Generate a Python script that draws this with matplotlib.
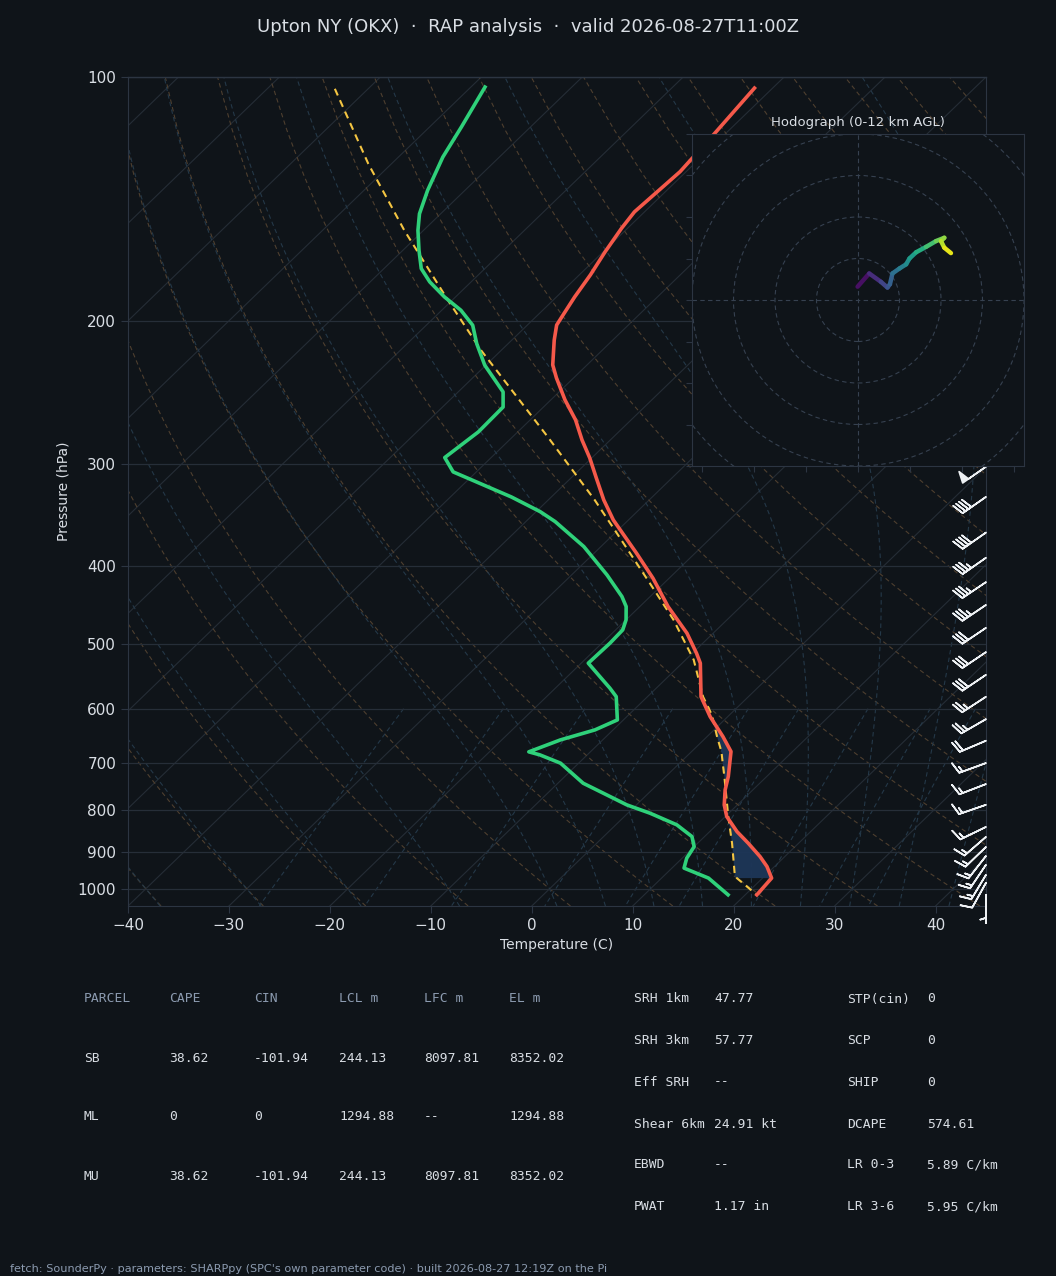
import numpy as np
import matplotlib
matplotlib.use("Agg")
import matplotlib.pyplot as plt
from matplotlib.axes import Axes
import matplotlib.transforms as transforms
from matplotlib.projections import register_projection
from matplotlib.collections import LineCollection
from matplotlib.patches import Circle

# ---------------------------------------------------------------- data
title = "Upton NY (OKX)  \u00b7  RAP analysis  \u00b7  valid 2026-08-27T11:00Z"
footer = ("fetch: SounderPy \u00b7 parameters: SHARPpy (SPC's own parameter code) "
          "\u00b7 built 2026-08-27 12:19Z on the Pi")

p_temp = [103.2, 117.3, 130.8, 146.6, 153.5, 164.3, 175.3, 186.6, 196.4, 202.1,
          210.9, 226.3, 234.8, 249.9, 264.5, 280.0, 294.6, 311.8, 331.9, 351.3,
          386.0, 414.4, 449.1, 484.3, 512.6, 527.3, 579.8, 613.6, 649.3, 677.5,
          727.4, 755.3, 788.2, 814.8, 850.2, 878.6, 912.7, 938.7, 970.1, 1017.2]
t_temp = [-61.8, -61.1, -60.6, -61.0, -60.6, -59.8, -58.9, -58.2, -57.5, -57.1,
          -55.8, -53.4, -51.7, -48.6, -45.5, -42.8, -40.2, -37.5, -34.5, -31.5,
          -25.8, -21.6, -17.2, -12.6, -9.6, -8.2, -4.7, -1.75, 1.56, 3.9,
          6.2, 7.25, 8.7, 10.15, 12.7, 15.0, 17.55, 19.25, 20.9, 21.15]

p_dwpt = [102.9, 115.2, 125.5, 137.9, 147.4, 154.5, 163.5, 172.2, 178.8, 186.6,
          193.8, 202.2, 213.1, 226.5, 244.3, 255.0, 273.6, 294.3, 306.5, 329.1,
          343.1, 352.9, 378.8, 410.5, 436.5, 449.1, 466.3, 479.8, 498.2, 527.3,
          545.1, 566.0, 579.8, 619.4, 637.2, 655.6, 678.1, 683.9, 700.2, 741.2,
          766.2, 788.2, 807.0, 834.1, 862.3, 887.3, 916.9, 943.0, 970.1, 1017.2]
t_dwpt = [-88.6, -86.85, -85.6, -83.7, -82.1, -80.55, -78.4, -76.3, -74.1, -71.1,
          -68.1, -65.4, -63.1, -60.1, -55.55, -54.0, -53.9, -54.6, -52.3, -43.96,
          -39.6, -37.1, -31.7, -26.5, -22.8, -21.35, -20.0, -19.3, -19.2, -19.3,
          -17.1, -14.6, -13.1, -10.6, -11.8, -14.2, -16.1, -14.7, -11.8, -7.5,
          -3.96, -0.95, 2.2, 6.05, 8.75, 10.0, 10.45, 11.2, 14.65, 18.3]

p_parcel = [103.4, 127.9, 154.5, 188.4, 217.1, 277.6, 331.9, 364.7, 420.3, 466.3,
            522.3, 579.8, 611.0, 649.3, 677.5, 700.0, 727.0, 755.3, 814.8, 878.6,
            965.7, 1017.2]
t_parcel = [-103.3, -92.3, -81.9, -70.4, -62.0, -46.5, -35.4, -29.8, -21.4, -15.3,
            -9.2, -4.5, -1.72, 0.98, 2.95, 4.26, 5.79, 7.3, 10.3, 13.4,
            17.1, 21.15]

barb_p = [302, 329, 364, 391, 419, 447, 477, 511, 545, 580, 618, 657,
          700, 743, 788, 839, 863, 888, 911, 934, 961, 983, 1017]
barb_spd_kt = [50, 40, 40, 35, 35, 35, 30, 30, 30, 25, 25, 20,
               15, 15, 15, 15, 15, 15, 15, 15, 15, 10, 5]
barb_dir_deg = [235, 235, 235, 235, 236, 236, 236, 236, 236, 237, 240, 247,
                250, 249, 251, 244, 229, 226, 218, 214, 211, 209, 180]

hodo_u = [-0.1, 2.7, 5.5, 7.1, 7.7, 8.3, 10.0, 11.6, 12.4, 14.0, 16.4, 18.8,
          20.8, 20.0, 20.8, 22.4]
hodo_v = [3.2, 6.4, 4.4, 3.0, 3.8, 6.4, 7.6, 8.6, 10.0, 11.5, 12.8, 14.2,
          15.0, 14.2, 12.6, 11.3]
hodo_z_km = [0.0, 1.0, 2.0, 2.9, 3.4, 4.0, 4.8, 5.5, 6.2, 7.0, 7.9, 8.9,
             9.8, 10.3, 11.0, 12.0]

parcel_header = ["PARCEL", "CAPE", "CIN", "LCL m", "LFC m", "EL m"]
parcel_rows = [["SB", "38.62", "-101.94", "244.13", "8097.81", "8352.02"],
               ["ML", "0", "0", "1294.88", "--", "1294.88"],
               ["MU", "38.62", "-101.94", "244.13", "8097.81", "8352.02"]]
idx_labels_1 = ["SRH 1km", "SRH 3km", "Eff SRH", "Shear 6km", "EBWD", "PWAT"]
idx_values_1 = ["47.77", "57.77", "--", "24.91 kt", "--", "1.17 in"]
idx_labels_2 = ["STP(cin)", "SCP", "SHIP", "DCAPE", "LR 0-3", "LR 3-6"]
idx_values_2 = ["0", "0", "0", "574.61", "5.89 C/km", "5.95 C/km"]

x_ticks = [-40, -30, -20, -10, 0, 10, 20, 30, 40]
p_ticks = [100, 200, 300, 400, 500, 600, 700, 800, 900, 1000]
mix_ratios = [0.0004, 0.001, 0.002, 0.004, 0.007, 0.01, 0.016, 0.024, 0.032]

# ---------------------------------------------------------------- style
BG = "#0f1419"
FG = "#d9dee4"
MUTED = "#8c9bb0"
SPINE = "#2c3542"
GRID = "#252d36"
C_T = "#f5594a"
C_TD = "#2fd17a"
C_PARCEL = "#f4c542"
C_CIN = "#1d3658"
C_DRY = "#4e3f2f"
C_MOIST = "#243848"
C_MIX = "#243848"

W, H = 1056, 1276


class SkewXAxes(Axes):
    name = "skewx45"

    def _set_lim_and_transforms(self):
        super()._set_lim_and_transforms()
        rot = 45
        self.transDataToAxes = (self.transScale + self.transLimits
                                + transforms.Affine2D().skew_deg(rot, 0))
        self.transData = self.transDataToAxes + self.transAxes
        self._xaxis_transform = (
            transforms.blended_transform_factory(
                self.transScale + self.transLimits,
                transforms.IdentityTransform())
            + transforms.Affine2D().skew_deg(rot, 0)) + self.transAxes


register_projection(SkewXAxes)

plt.rcParams["font.family"] = ["DejaVu Sans"]
fig = plt.figure(figsize=(W / 100, H / 100), dpi=100, facecolor=BG)


def fx(px):
    return px / W


def fy(py):
    return 1 - py / H


ax = fig.add_axes([fx(128), fy(906), fx(986) - fx(128), fy(77) - fy(906)],
                  projection="skewx45")
ax.set_facecolor(BG)
ax.set_yscale("log")

pmin, pmax = 100.0, 1050.0
xmin, xmax = -40.0, 45.0

# background lines ----------------------------------------------------
p_line = np.linspace(pmax, pmin, 60)
for T0 in np.arange(-140, 50, 10):
    ax.plot([T0, T0], [pmax, pmin], color=GRID, lw=0.8, zorder=1)

for t0 in np.arange(xmin, xmax + 201, 10):
    tt = (t0 + 273.15) * (p_line / 1000.0) ** 0.2857 - 273.15
    ax.plot(tt, p_line, color=C_DRY, lw=0.8, ls=(0, (4, 3)), zorder=1)


def moist_rate(p, T):
    Rd, Cp, Lv, eps = 287.04, 1005.7, 2.501e6, 0.622
    Tc = T - 273.15
    es = 6.112 * np.exp(17.67 * Tc / (Tc + 243.5))
    rs = eps * es / (p - es)
    return ((Rd * T + Lv * rs) / p) / (Cp + Lv * Lv * rs * eps / (Rd * T * T))


def moist_profile(t0c, p_end, step):
    ps = [1000.0]
    ts = [t0c + 273.15]
    p, T = 1000.0, t0c + 273.15
    n = int(round(abs(p_end - 1000.0) / abs(step)))
    for _ in range(n):
        k1 = moist_rate(p, T)
        k2 = moist_rate(p + step / 2, T + step / 2 * k1)
        k3 = moist_rate(p + step / 2, T + step / 2 * k2)
        k4 = moist_rate(p + step, T + step * k3)
        T = T + step / 6 * (k1 + 2 * k2 + 2 * k3 + k4)
        p = p + step
        ps.append(p)
        ts.append(T)
    return np.array(ps), np.array(ts) - 273.15


moist_t0 = np.concatenate((np.arange(xmin, 0, 10), np.arange(0, xmax + 1, 5)))
for t0 in moist_t0:
    pu, tu = moist_profile(t0, 100.0, -5.0)
    pd, td = moist_profile(t0, 1050.0, 5.0)
    pp = np.concatenate((pd[::-1], pu[1:]))
    tt = np.concatenate((td[::-1], tu[1:]))
    ax.plot(tt, pp, color=C_MOIST, lw=0.8, ls=(0, (4, 3)), zorder=1)

p_mix = np.linspace(600, pmax, 30)
for w in mix_ratios:
    e = p_mix * w / (0.622 + w)
    a = np.log(e / 6.112)
    td = 243.5 * a / (17.67 - a)
    ax.plot(td, p_mix, color=C_MIX, lw=0.8, ls=(0, (4, 3)), zorder=1)

for p in p_ticks:
    ax.axhline(p, color="#262e38", lw=0.9, zorder=1.2)

# CIN shading --------------------------------------------------------
pt = np.array(p_temp)
tt_ = np.array(t_temp)
pp_ = np.array(p_parcel)
tp_ = np.array(t_parcel)
p_all = np.union1d(pt, pp_)
p_all = p_all[(p_all >= 575) & (p_all <= 971)]
t_at = np.interp(np.log(p_all), np.log(pt), tt_)
parcel_at = np.interp(np.log(p_all), np.log(pp_), tp_)
ax.fill_betweenx(p_all, t_at, parcel_at, where=t_at >= parcel_at,
                 interpolate=True, color=C_CIN, alpha=0.95, lw=0, zorder=2)

# profiles -------------------------------------------------------------
ax.plot(t_parcel, p_parcel, color=C_PARCEL, lw=1.5, ls=(0, (3.5, 2.5)), zorder=3)
ax.plot(t_temp, p_temp, color=C_T, lw=2.6, zorder=4, solid_joinstyle="round")
ax.plot(t_dwpt, p_dwpt, color=C_TD, lw=2.6, zorder=4, solid_joinstyle="round")

# wind barbs -------------------------------------------------------------
spd = np.array(barb_spd_kt, float)
drc = np.deg2rad(np.array(barb_dir_deg, float))
bu = -spd * np.sin(drc)
bv = -spd * np.cos(drc)
ax.barbs(np.ones(len(barb_p)), barb_p, bu, bv, transform=ax.get_yaxis_transform(),
         clip_on=False, color="#eef1f4", lw=1.2, length=6.4, zorder=5)

# axes cosmetics ---------------------------------------------------------
ax.set_ylim(pmax, pmin)
ax.set_xlim(xmin, xmax)
ax.set_yticks(p_ticks)
ax.set_yticklabels([str(p) for p in p_ticks])
ax.yaxis.set_minor_locator(matplotlib.ticker.NullLocator())
ax.set_xticks(x_ticks)
ax.tick_params(colors=FG, labelsize=11, length=5, color=SPINE, top=False)
for s in ["left", "right", "bottom"]:
    ax.spines[s].set_color(SPINE)
ax.spines["top"].set_visible(False)
ax.axhline(pmin, color=SPINE, lw=1.0, zorder=6, clip_on=False)
ax.set_ylabel("Pressure (hPa)", color=FG, fontsize=10, labelpad=5)
ax.set_xlabel("Temperature (C)", color=FG, fontsize=10, labelpad=4)

# hodograph ------------------------------------------------------------
axh = fig.add_axes([fx(692), fy(466), fx(1024) - fx(692), fy(134) - fy(466)])
axh.set_facecolor(BG)
axh.set_xlim(-40, 40)
axh.set_ylim(-40, 40)
RING = "#364150"
for r in [10, 20, 30, 40, 50]:
    axh.add_patch(Circle((0, 0), r, fill=False, ec=RING, lw=0.8,
                         ls=(0, (4, 3)), zorder=1))
axh.axhline(0, color=RING, lw=0.8, ls=(0, (4, 3)), zorder=1)
axh.axvline(0, color=RING, lw=0.8, ls=(0, (4, 3)), zorder=1)
pts = np.column_stack([hodo_u, hodo_v])
segs = np.stack([pts[:-1], pts[1:]], axis=1)
zmid = 0.5 * (np.array(hodo_z_km[:-1]) + np.array(hodo_z_km[1:]))
lc = LineCollection(segs, cmap="viridis", lw=3.2, zorder=3, capstyle="round")
lc.set_array(zmid)
lc.set_clim(0, 12)
axh.add_collection(lc)
axh.set_xticks([-37.5, -25, -12.5, 0, 12.5, 25, 37.5])
axh.set_yticks([-40, -30, -20, -10, 0, 10, 20, 30, 40])
axh.tick_params(colors=FG, color=SPINE, labelleft=False, labelbottom=False, length=4)
for s in axh.spines.values():
    s.set_color(SPINE)
axh.set_title("Hodograph (0-12 km AGL)", color=FG, fontsize=9.5, pad=6)

# title / tables / footer ------------------------------------------------
fig.text(0.5, fy(27), title, color=FG, fontsize=13, ha="center", va="center")

mono = "DejaVu Sans Mono"
col_x = [84, 169, 254, 339, 424, 509]
row_y = [999, 1058, 1117, 1176]
for j, h in enumerate(parcel_header):
    fig.text(fx(col_x[j]), fy(row_y[0]), h, color=MUTED, fontsize=9.4,
             family=mono, va="center")
for i, row in enumerate(parcel_rows):
    for j, val in enumerate(row):
        fig.text(fx(col_x[j]), fy(row_y[i + 1]), val, color=FG, fontsize=9.4,
                 family=mono, va="center")

idx_y = [999, 1041, 1082, 1124, 1165, 1207]
for i in range(len(idx_labels_1)):
    fig.text(fx(634), fy(idx_y[i]), idx_labels_1[i], color=FG, fontsize=9.4,
             family=mono, va="center")
    fig.text(fx(714), fy(idx_y[i]), idx_values_1[i], color=FG, fontsize=9.4,
             family=mono, va="center")
    fig.text(fx(847), fy(idx_y[i]), idx_labels_2[i], color=FG, fontsize=9.4,
             family=mono, va="center")
    fig.text(fx(927), fy(idx_y[i]), idx_values_2[i], color=FG, fontsize=9.4,
             family=mono, va="center")

fig.text(fx(10), fy(1269), footer, color=MUTED, fontsize=8.15, va="center")

fig.savefig("out.png", dpi=100, facecolor=BG)
